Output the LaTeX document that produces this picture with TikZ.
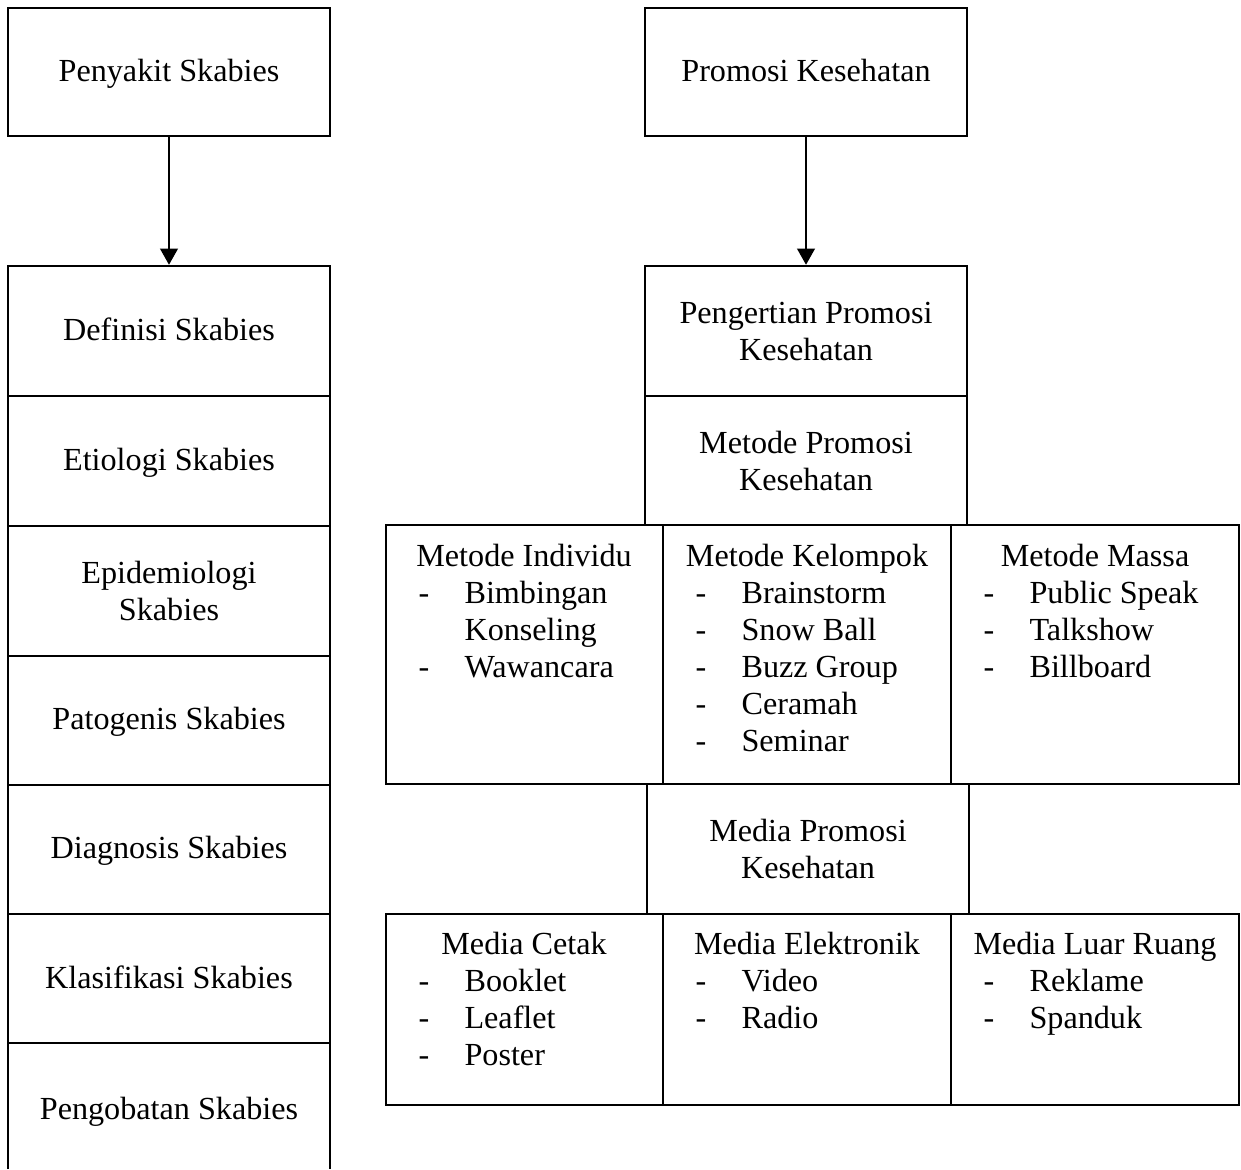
\documentclass[tikz,border=0pt]{standalone}
\usepackage{fontspec}
\setmainfont{Liberation Serif}
\usetikzlibrary{fit,arrows.meta}
\begin{document}
\begin{tikzpicture}[x=0.373pt,y=-0.373pt,
  box/.style={draw, line width=0.9pt, inner sep=0pt},
  txt/.style={inner sep=0pt, font=\fontsize{12}{13.8}\selectfont},
  lbl/.style={inner sep=0pt, align=center, font=\fontsize{12}{13.8}\selectfont},
  arr/.style={line width=0.9pt, -{Triangle[length=6pt,width=6.5pt]}}]
\useasboundingbox (0,0) rectangle (1241,1169);
% left column
\node[box, fit={(8,8)(330,136)}] (peny) {};
\node[box, fit={(8,266)(330,396)}] (def) {};
\node[box, fit={(8,396)(330,526)}] (eti) {};
\node[box, fit={(8,526)(330,656)}] (epi) {};
\node[box, fit={(8,656)(330,785)}] (pat) {};
\node[box, fit={(8,785)(330,914)}] (dia) {};
\node[box, fit={(8,914)(330,1043)}] (kla) {};
\node[txt, anchor=base] (lpeny) at (169,81) {Penyakit Skabies};
\node[txt, anchor=base] (ldef) at (169,340) {Definisi Skabies};
\node[txt, anchor=base] (leti) at (169,470) {Etiologi Skabies};
\node[lbl] (lepi) at (epi.center) {Epidemiologi\\Skabies};
\node[txt, anchor=base] (lpat) at (169,729) {Patogenis Skabies};
\node[txt, anchor=base] (ldia) at (169,858) {Diagnosis Skabies};
\node[txt, anchor=base] (lkla) at (169,988) {Klasifikasi Skabies};
\node[txt, anchor=base] (peng) at (169,1119) {Pengobatan Skabies};
\draw[line width=0.9pt] (8,1169) -- (8,1043) -- (330,1043) -- (330,1169);
\draw[arr] (peny.south) -- (def.north);
% right column
\node[box, fit={(645,8)(967,136)}] (promo) {};
\node[box, fit={(645,266)(967,396)}] (pengert) {};
\node[box, fit={(645,396)(967,525)}] (metode) {};
\node[txt, anchor=base] (lpromo) at (806,81) {Promosi Kesehatan};
\node[lbl] (lpengert) at (pengert.center) {Pengertian Promosi\\Kesehatan};
\node[lbl] (lmetode) at (metode.center) {Metode Promosi\\Kesehatan};
\draw[arr] (promo.south) -- (pengert.north);
% methods row
\node[box, fit={(386,525)(663,784)}] (mind) {};
\node[box, fit={(663,525)(951,784)}] (mkel) {};
\node[box, fit={(951,525)(1239,784)}] (mmas) {};
\node[txt, anchor=base] (hind) at (524,566) {Metode Individu};
\node[txt, anchor=base] (hkel) at (807,566) {Metode Kelompok};
\node[txt, anchor=base] (hmas) at (1095,566) {Metode Massa};
\foreach \t/\y [count=\i] in {Bimbingan/603,Konseling/640,Wawancara/677}{
  \node[txt, anchor=base west] (ti\i) at (464,\y) {\t};}
\node[txt, anchor=base west] (di1) at (418,603) {-};
\node[txt, anchor=base west] (di2) at (418,677) {-};
\foreach \t/\y [count=\i] in {Brainstorm/603,Snow Ball/640,Buzz Group/677,Ceramah/714,Seminar/751}{
  \node[txt, anchor=base west] (dk\i) at (695,\y) {-};
  \node[txt, anchor=base west] (tk\i) at (741,\y) {\t};}
\foreach \t/\y [count=\i] in {Public Speak/603,Talkshow/640,Billboard/677}{
  \node[txt, anchor=base west] (dm\i) at (983,\y) {-};
  \node[txt, anchor=base west] (tm\i) at (1029,\y) {\t};}
% media
\node[box, fit={(647,784)(969,914)}] (media) {};
\node[lbl] (lmedia) at (media.center) {Media Promosi\\Kesehatan};
\node[box, fit={(386,914)(663,1105)}] (mcet) {};
\node[box, fit={(663,914)(951,1105)}] (mele) {};
\node[box, fit={(951,914)(1239,1105)}] (mlr) {};
\node[txt, anchor=base] (hcet) at (524,954) {Media Cetak};
\node[txt, anchor=base] (hele) at (807,954) {Media Elektronik};
\node[txt, anchor=base] (hlr) at (1095,954) {Media Luar Ruang};
\foreach \t/\y [count=\i] in {Booklet/991,Leaflet/1028,Poster/1065}{
  \node[txt, anchor=base west] (dc\i) at (418,\y) {-};
  \node[txt, anchor=base west] (tc\i) at (464,\y) {\t};}
\foreach \t/\y [count=\i] in {Video/991,Radio/1028}{
  \node[txt, anchor=base west] (de\i) at (695,\y) {-};
  \node[txt, anchor=base west] (te\i) at (741,\y) {\t};}
\foreach \t/\y [count=\i] in {Reklame/991,Spanduk/1028}{
  \node[txt, anchor=base west] (dl\i) at (983,\y) {-};
  \node[txt, anchor=base west] (tl\i) at (1029,\y) {\t};}
\end{tikzpicture}
\end{document}
